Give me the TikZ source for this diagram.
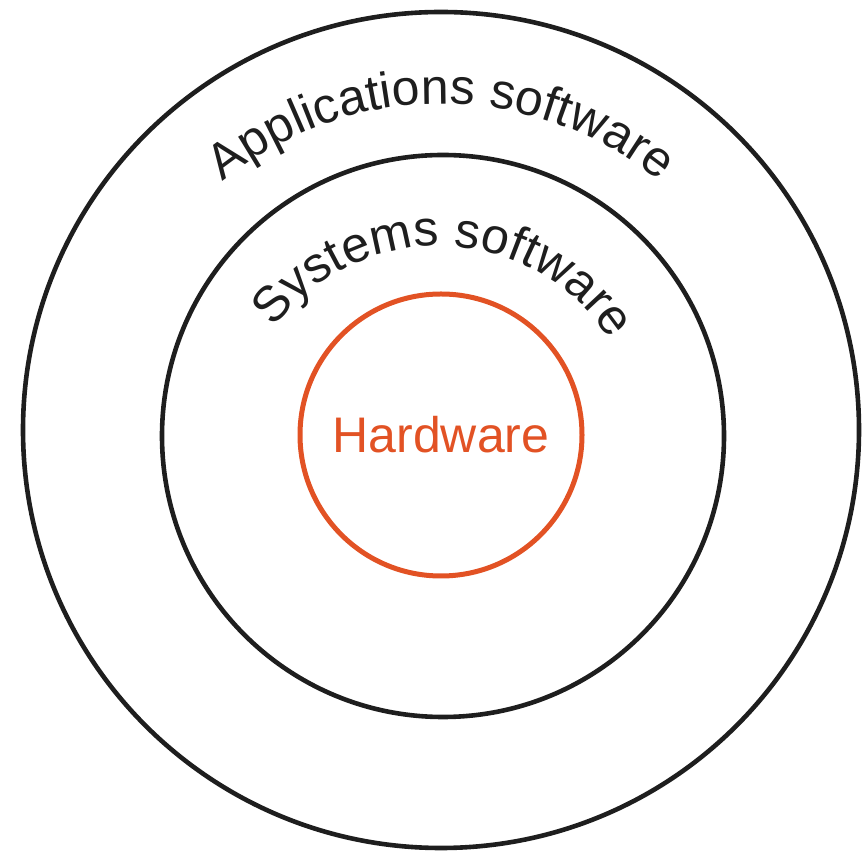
\documentclass[tikz,border=0pt]{standalone}
\usepackage{fontspec}
\setmainfont{Liberation Sans}
\usetikzlibrary{decorations.text}
\definecolor{hwred}{RGB}{226,82,36}
\definecolor{ink}{RGB}{30,30,30}
\newcommand{\lblfont}{\fontsize{50}{60}\selectfont}
\tikzset{
  ring/.style={circle, draw=ink, line width=4.6pt, inner sep=0pt, fill=none},
  hwring/.style={circle, draw=hwred, line width=5pt, inner sep=0pt, text=hwred, font=\lblfont},
  arclabel/.style={decorate, decoration={text along path, text align=center, text color=ink}}
}
\begin{document}
\begin{tikzpicture}[x=1pt, y=1pt]
\useasboundingbox (0,0) rectangle (865,854);
% circles (image y -> 854 - y)
\node[ring, minimum size=836pt] (outer) at (441,424) {};
\node[ring, minimum size=562pt] (middle) at (443,418) {};
\node[hwring, minimum size=282pt] (hw) at (441,419) {Hardware};
% text centres
\coordinate (tc) at (441,404);
\coordinate (sc) at (438,403);
\path[arclabel, decoration={text={|\lblfont|Applications software}}]
  (tc) ++(170:346) arc[start angle=170, end angle=10, radius=346];
\path[arclabel, decoration={text={|\lblfont|Systems software}}]
  (sc) ++(178:205) arc[start angle=178, end angle=-2, radius=205];
\end{tikzpicture}
\end{document}
